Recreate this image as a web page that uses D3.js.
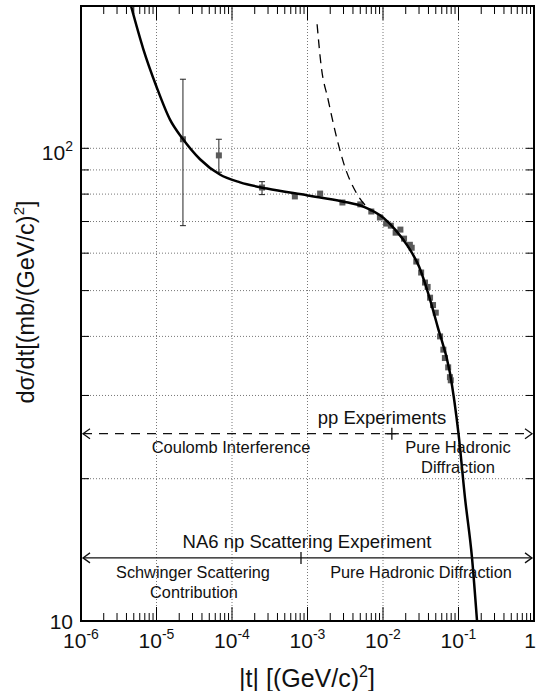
<!doctype html>
<html>
<head>
<script src="https://d3js.org/d3.v7.min.js"></script>
<style>
  body { margin: 0; background: #fff; }
  text { font-family: "Liberation Sans", Arial, Helvetica, sans-serif; }
</style>
</head>
<body>
<svg id="chart" width="537" height="691"></svg>
<script>
// solid curve (Coulomb + hadronic)
var curveT = [4.6e-6, 6.7e-6, 1.0e-5, 1.51e-5, 2.2e-5, 3.77e-5, 6.9e-5, 1.28e-4, 2.9e-4, 1.0e-3, 2.9e-3, 5.8e-3, 1.0e-2, 1.45e-2, 2.14e-2, 3.0e-2, 3.94e-2, 5.3e-2, 7.7e-2, 0.1, 0.122, 0.151, 0.176]
var curveV = [200, 162, 135, 115, 105, 94.8, 88, 84.7, 82.2, 79.5, 77.2, 75, 71.4, 67.3, 62.0, 56.2, 49.5, 41.9, 33.5, 24.9, 18.2, 13.6, 10]
// dashed curve
var dashT = [1.34e-3, 1.52e-3, 1.87e-3, 2.41e-3, 3.1e-3, 4.43e-3, 7.0e-3]
var dashV = [183, 149, 127, 106, 91.7, 80.5, 73.6]
// measured points
var pointT = [2.24e-5, 6.7e-5, 2.5e-4, 6.8e-4, 1.47e-3, 2.9e-3, 5.0e-3, 7.0e-3, 9.1e-3, 1.1e-2, 1.27e-2, 1.47e-2, 1.7e-2, 1.9e-2, 2.27e-2, 2.4e-2, 2.76e-2, 3.2e-2, 3.6e-2, 3.9e-2, 4.2e-2, 4.6e-2, 5.0e-2, 5.7e-2, 6.3e-2, 6.6e-2, 7.3e-2, 7.7e-2, 7.9e-2]
var pointV = [104.5, 96.6, 82.6, 79.1, 80.2, 76.8, 76.1, 73.5, 71.4, 69.3, 68.6, 66.3, 67.3, 64.4, 62.5, 61.6, 57.6, 54.6, 52.0, 50.9, 48.3, 46.6, 44.9, 40.0, 37.5, 36.0, 34.4, 32.8, 32.3]
// error bars
var errT = [2.24e-5, 6.7e-5, 2.5e-4]
var errLo = [68.6, 89, 79.8]
var errHi = [140, 104.5, 85]
// ticks
var xTicks = [1e-6, 1e-5, 1e-4, 1e-3, 1e-2, 1e-1, 1]
var xTickExp = ["-6", "-5", "-4", "-3", "-2", "-1", ""]
var yGrid = [20, 30, 40, 50, 60, 70, 80, 90, 100]
// annotation ranges
var ppLevel = 24.9, ppSplit = 1.31e-2
var na6Level = 13.6, na6Split = 8.2e-4

var W = 537, H = 691
var margin = {left: 81, right: 3, top: 6, bottom: 70}
var svg = d3.select("#chart")

var x = d3.scaleLog().domain([1e-6, 1]).range([margin.left, W - margin.right])
var y = d3.scaleLog().domain([10, 200]).range([H - margin.bottom, margin.top])
var x0 = x.range()[0], x1 = x.range()[1], y0 = y.range()[0], y1 = y.range()[1]

// grid
svg.append("g").selectAll("line").data(xTicks.slice(1, -1)).join("line")
  .attr("x1", d => x(d)).attr("x2", d => x(d)).attr("y1", y0).attr("y2", y1)
  .attr("stroke", "#777").attr("stroke-width", 1).attr("stroke-dasharray", "1,2")
svg.append("g").selectAll("line").data(yGrid).join("line")
  .attr("x1", x0).attr("x2", x1).attr("y1", d => y(d)).attr("y2", d => y(d))
  .attr("stroke", "#777").attr("stroke-width", 1).attr("stroke-dasharray", "1,2")

// minor/major ticks on top and bottom
var minor = []
for (var e = -6; e < 0; e++) for (var m = 2; m <= 9; m++) minor.push(m * Math.pow(10, e))
var tk = svg.append("g").attr("stroke", "#000").attr("stroke-width", 1)
minor.forEach(function(d) {
  tk.append("line").attr("x1", x(d)).attr("x2", x(d)).attr("y1", y0).attr("y2", y0 - 8)
  tk.append("line").attr("x1", x(d)).attr("x2", x(d)).attr("y1", y1).attr("y2", y1 + 8)
})
xTicks.forEach(function(d) {
  tk.append("line").attr("x1", x(d)).attr("x2", x(d)).attr("y1", y0).attr("y2", y0 - 14)
  tk.append("line").attr("x1", x(d)).attr("x2", x(d)).attr("y1", y1).attr("y2", y1 + 14)
})
yGrid.forEach(function(d) {
  tk.append("line").attr("x1", x0).attr("x2", x0 + 8).attr("y1", y(d)).attr("y2", y(d))
  tk.append("line").attr("x1", x1).attr("x2", x1 - 8).attr("y1", y(d)).attr("y2", y(d))
})

// frame
svg.append("rect").attr("x", x0).attr("y", y1).attr("width", x1 - x0).attr("height", y0 - y1)
  .attr("fill", "none").attr("stroke", "#000").attr("stroke-width", 2)

// tick labels
var xl = svg.append("g").attr("font-size", 21).attr("fill", "#111")
xTicks.forEach(function(d, i) {
  var last = xTickExp[i] === ""
  var t = xl.append("text").attr("x", last ? W - 1 : x(d)).attr("y", 648)
    .attr("text-anchor", last ? "end" : "middle")
  t.append("tspan").text(last ? "1" : "10")
  if (!last) t.append("tspan").attr("dy", -9).attr("font-size", 14).text(xTickExp[i])
})
var yl = svg.append("g").attr("font-size", 21).attr("fill", "#111").attr("text-anchor", "end")
yl.append("text").attr("x", 73).attr("y", y(10) + 8).text("10")
var t2 = yl.append("text").attr("x", 73).attr("y", y(100) + 12)
t2.append("tspan").text("10")
t2.append("tspan").attr("dy", -9).attr("font-size", 14).text("2")

// axis titles
var xt = svg.append("text").attr("x", 307).attr("y", 687).attr("text-anchor", "middle")
  .attr("font-size", 25).attr("fill", "#111")
xt.append("tspan").text("|t| [(GeV/c)")
xt.append("tspan").attr("dy", -10).attr("font-size", 16).text("2")
xt.append("tspan").attr("dy", 10).text("]")
var yt = svg.append("text").attr("transform", "translate(34,302) rotate(-90)").attr("text-anchor", "middle")
  .attr("font-size", 23.5).attr("fill", "#111")
yt.append("tspan").text("dσ/dt[(mb/(GeV/c)")
yt.append("tspan").attr("dy", -10).attr("font-size", 15).text("2")
yt.append("tspan").attr("dy", 10).text("]")

// clip
svg.append("clipPath").attr("id", "clip").append("rect")
  .attr("x", x0).attr("y", y1).attr("width", x1 - x0).attr("height", y0 - y1)
var plot = svg.append("g").attr("clip-path", "url(#clip)")

// error bars
errT.forEach(function(d, i) {
  plot.append("line").attr("x1", x(d)).attr("x2", x(d)).attr("y1", y(errLo[i])).attr("y2", y(errHi[i]))
    .attr("stroke", "#222").attr("stroke-width", 1)
  ;[errLo[i], errHi[i]].forEach(function(v) {
    plot.append("line").attr("x1", x(d) - 3).attr("x2", x(d) + 3).attr("y1", y(v)).attr("y2", y(v))
      .attr("stroke", "#222").attr("stroke-width", 1)
  })
})

// points
plot.selectAll("rect.pt").data(pointT).join("rect").attr("class", "pt")
  .attr("x", d => x(d) - 3).attr("y", (d, i) => y(pointV[i]) - 3)
  .attr("width", 6).attr("height", 6).attr("fill", "#5a5a5a")

var line = d3.line().x(d => x(d[0])).y(d => y(d[1])).curve(d3.curveMonotoneX)
plot.append("path").datum(curveT.map((d, i) => [d, curveV[i]])).attr("d", line)
  .attr("fill", "none").attr("stroke", "#000").attr("stroke-width", 2.5)
plot.append("path").datum(dashT.map((d, i) => [d, dashV[i]])).attr("d", line)
  .attr("fill", "none").attr("stroke", "#000").attr("stroke-width", 1.3).attr("stroke-dasharray", "9,6")

// range annotations
function arrowRange(level, split, dashed) {
  var yy = y(level)
  var g = svg.append("g").attr("stroke", "#111").attr("stroke-width", 1.3).attr("fill", "none")
  g.append("line").attr("x1", x0 + 2).attr("x2", x1 - 2).attr("y1", yy).attr("y2", yy)
    .attr("stroke-dasharray", dashed ? "9,7" : null)
  g.append("path").attr("d", "M" + (x0 + 9) + "," + (yy - 5) + "L" + (x0 + 2) + "," + yy + "L" + (x0 + 9) + "," + (yy + 5))
  g.append("path").attr("d", "M" + (x1 - 9) + "," + (yy - 5) + "L" + (x1 - 2) + "," + yy + "L" + (x1 - 9) + "," + (yy + 5))
  g.append("line").attr("x1", x(split)).attr("x2", x(split)).attr("y1", yy - 6).attr("y2", yy + 6)
  if (dashed) g.append("line").attr("x1", x(split) - 7).attr("x2", x(split) + 7).attr("y1", yy).attr("y2", yy)
}
arrowRange(ppLevel, ppSplit, true)
arrowRange(na6Level, na6Split, false)

var notes = svg.append("g").attr("fill", "#111").attr("text-anchor", "middle")
notes.append("text").attr("x", 382).attr("y", y(ppLevel) - 10).attr("font-size", 18.5).text("pp Experiments")
notes.append("text").attr("x", 231).attr("y", y(ppLevel) + 19).attr("font-size", 16.5).text("Coulomb Interference")
notes.append("text").attr("x", 458).attr("y", y(ppLevel) + 19).attr("font-size", 16.5).text("Pure Hadronic")
notes.append("text").attr("x", 458).attr("y", y(ppLevel) + 39).attr("font-size", 16.5).text("Diffraction")
notes.append("text").attr("x", 307).attr("y", y(na6Level) - 10).attr("font-size", 18.5).text("NA6 np Scattering Experiment")
notes.append("text").attr("x", 193).attr("y", y(na6Level) + 20).attr("font-size", 16.3).text("Schwinger Scattering")
notes.append("text").attr("x", 194).attr("y", y(na6Level) + 40).attr("font-size", 16.3).text("Contribution")
notes.append("text").attr("x", 421).attr("y", y(na6Level) + 20).attr("font-size", 16.3).text("Pure Hadronic Diffraction")
</script>
</body>
</html>
